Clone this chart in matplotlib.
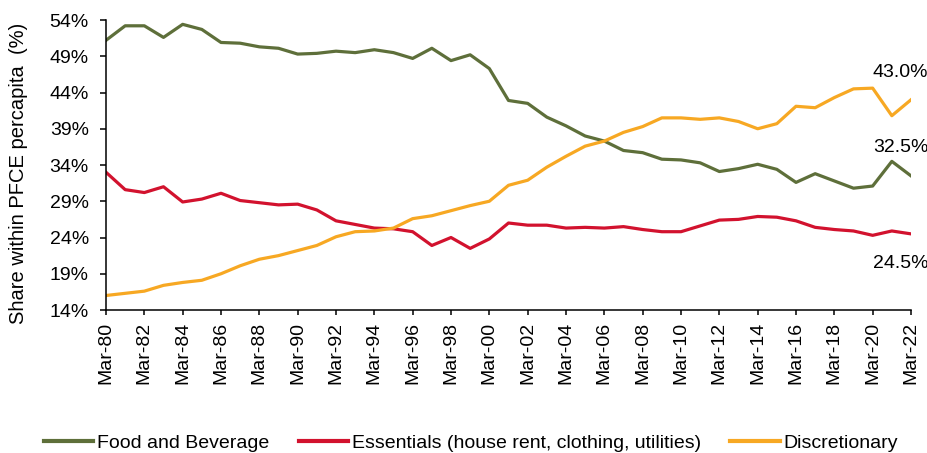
import matplotlib.pyplot as plt
import numpy as np

plt.rcParams['font.family'] = ['Liberation Sans', 'DejaVu Sans']

# Years Mar-80 .. Mar-22
years = list(range(1980, 2023))

food = [51.2, 53.2, 53.2, 51.6, 53.4, 52.7, 50.9, 50.8, 50.3, 50.1,
        49.3, 49.4, 49.7, 49.5, 49.9, 49.5, 48.7, 50.1, 48.4, 49.2,
        47.3, 42.9, 42.5, 40.6, 39.4, 38.0, 37.3, 36.0, 35.7, 34.8,
        34.7, 34.3, 33.1, 33.5, 34.1, 33.4, 31.6, 32.8, 31.8, 30.8,
        31.1, 34.5, 32.5]

essentials = [33.0, 30.6, 30.2, 31.0, 28.9, 29.3, 30.1, 29.1, 28.8, 28.5,
              28.6, 27.8, 26.3, 25.8, 25.3, 25.2, 24.8, 22.9, 24.0, 22.5,
              23.8, 26.0, 25.7, 25.7, 25.3, 25.4, 25.3, 25.5, 25.1, 24.8,
              24.8, 25.6, 26.4, 26.5, 26.9, 26.8, 26.3, 25.4, 25.1, 24.9,
              24.3, 24.9, 24.5]

discretionary = [16.0, 16.3, 16.6, 17.4, 17.8, 18.1, 19.0, 20.1, 21.0, 21.5,
                 22.2, 22.9, 24.1, 24.8, 24.9, 25.3, 26.6, 27.0, 27.7, 28.4,
                 29.0, 31.2, 31.9, 33.7, 35.2, 36.6, 37.3, 38.5, 39.3, 40.5,
                 40.5, 40.3, 40.5, 40.0, 39.0, 39.7, 42.1, 41.9, 43.3, 44.5,
                 44.6, 40.8, 43.0]

labels = ['Food and Beverage', 'Essentials (house rent, clothing, utilities)', 'Discretionary']
colors = ['#5E6F3A', '#D2122E', '#F7A823']

fig = plt.figure(figsize=(9.28, 4.53), dpi=100)
ax = fig.add_axes([106 / 928, 1 - 310 / 453, 805 / 928, 290 / 453])

x = np.arange(len(years))
for series, lab, col in zip([food, essentials, discretionary], labels, colors):
    ax.plot(x, series, color=col, linewidth=2.3, label=lab)

ax.set_xlim(0, len(years) - 1)
ax.set_ylim(14, 54)
ax.set_yticks(np.arange(14, 55, 5))
ax.set_yticklabels([f'{v}%' for v in range(14, 55, 5)])
ax.set_xticks(x[::2])
ax.set_xticklabels([f'Mar-{y % 100:02d}' for y in years[::2]], rotation=90)

ax.spines['top'].set_visible(False)
ax.spines['right'].set_visible(False)
ax.spines['left'].set_linewidth(1.1)
ax.spines['bottom'].set_linewidth(1.1)
ax.tick_params(axis='y', length=4.3, width=1.1, pad=8, labelsize=14)
ax.tick_params(axis='x', length=3.6, width=1.1, pad=5, labelsize=14)

ax.set_ylabel('Share within PFCE percapita  (%)', fontsize=14.5)
ax.yaxis.set_label_coords(-0.097, 0.47)

# end-of-line value labels
last = len(years) - 1
ax.annotate(f'{discretionary[-1]:.1f}%', (last, discretionary[-1]), xytext=(-38, 27),
            textcoords='offset pixels', ha='left', va='center', fontsize=14, annotation_clip=False)
ax.annotate(f'{food[-1]:.1f}%', (last, food[-1]), xytext=(-38, 28),
            textcoords='offset pixels', ha='left', va='center', fontsize=14, annotation_clip=False)
ax.annotate(f'{essentials[-1]:.1f}%', (last, essentials[-1]), xytext=(-38, -30),
            textcoords='offset pixels', ha='left', va='center', fontsize=14, annotation_clip=False)

leg = fig.legend(loc='center', bbox_to_anchor=(471 / 928, 1 - 443 / 453), ncol=3, frameon=False,
                 fontsize=14, handlelength=2.55, handletextpad=0.2, columnspacing=1.5,
                 borderaxespad=0, borderpad=0)
for line in leg.get_lines():
    line.set_linewidth(3)

fig.savefig('out.png', dpi=100)
